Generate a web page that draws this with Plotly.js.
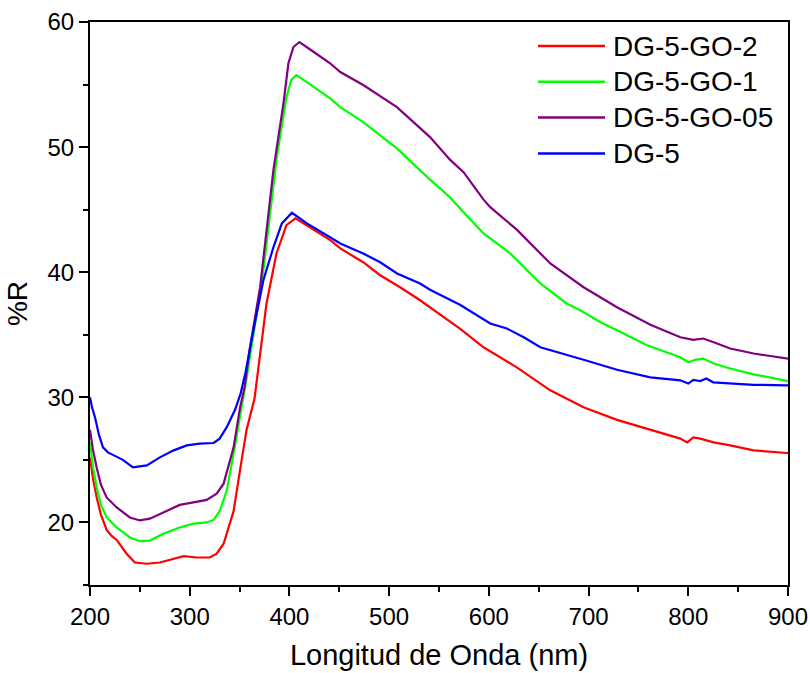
<!DOCTYPE html>
<html>
<head>
<meta charset="utf-8">
<script src="https://cdn.plot.ly/plotly-3.0.1.min.js"></script>
<style>html,body{margin:0;padding:0;background:#fff;}#chart{width:810px;height:673px;}</style>
</head>
<body>
<div id="chart"></div>
<script>
// Series names (legend order)
const names = ["DG-5-GO-2", "DG-5-GO-1", "DG-5-GO-05", "DG-5"];
const colors = ["#ff0000", "#00ff00", "#800080", "#0000ff"];

// DG-5-GO-2 (red)
const wlRed = [200,203,206.7,211,216.7,222,226.8,236.7,245,257,270,284,294,307,320,327,334,339,344,350.5,357,365,377,387,397,406,424,441,451,474,491,511,531,551,571,594.7,628,661.6,695,728.5,762,792,799,805,812,825.5,842,865.6,899,900];
const rRed  = [25.2,23.5,22.0,20.6,19.4,18.9,18.6,17.5,16.8,16.7,16.8,17.1,17.3,17.2,17.2,17.5,18.3,19.6,20.9,24.2,27.4,29.9,37.5,41.5,43.76,44.3,43.4,42.56,41.9,40.8,39.76,38.8,37.76,36.6,35.5,34.0,32.4,30.56,29.2,28.2,27.4,26.7,26.4,26.8,26.7,26.4,26.16,25.76,25.55,25.55];

// DG-5-GO-1 (green)
const wlGreen = [200,203,206.7,211,216.7,226.8,240,250,260,273.5,290,303.7,317,324,330,337,344,350.5,357,374,387,397,402,407,417.5,440.8,451,474,507.8,541,561,574.6,594.7,601.4,621.5,651.6,678,691.7,712,725,758.6,792,800,807,815,825.5,842,865.6,899,900];
const rGreen  = [26.4,24.4,22.8,21.4,20.4,19.6,18.8,18.5,18.55,19.1,19.6,19.9,20.0,20.2,20.9,22.5,25.5,28.4,31.5,40.2,49.0,54.0,55.4,55.75,55.2,53.9,53.2,52.0,49.9,47.4,46.0,44.8,43.1,42.7,41.5,39.1,37.5,36.96,36.0,35.5,34.16,33.2,32.8,33.0,33.1,32.7,32.3,31.84,31.3,31.3];

// DG-5-GO-05 (purple)
const wlPurple = [200,203,206.7,211,216.7,226.8,240,250,260,273.5,290,303.7,317,327,334,344,350.5,355,360,370.6,384,394,399,404,410,420.8,440.8,451,474,507.8,541,561,574.6,594.7,601.4,628,661.6,695,728.5,762,792,805,815,825.5,842,865.6,899,900];
const rPurple  = [27.4,25.8,24.4,23.0,22.0,21.2,20.4,20.16,20.3,20.8,21.4,21.6,21.8,22.3,23.1,26.0,29.2,30.8,33.8,38.8,48.2,53.5,56.7,58.0,58.4,57.8,56.7,56.0,54.96,53.2,50.8,49.0,48.0,45.8,45.2,43.4,40.7,38.8,37.2,35.8,34.8,34.6,34.7,34.4,33.9,33.5,33.1,33.1];

// DG-5 (blue)
const wlBlue = [200,202,205,209,213,218,223,233,243,257,270,284,297,310,324,330,337,345.5,351,356,364,374,384,392.4,402.5,417.5,440.8,451,474,491,508,531,541,561,571,601.4,618,635,651.6,695,728.5,762,792,800,805,812,818,825,842,865.6,899,900];
const rBlue  = [30.0,29.2,28.4,27.0,26.0,25.6,25.4,25.0,24.4,24.56,25.2,25.76,26.16,26.3,26.35,26.7,27.6,29.0,30.3,32.0,35.4,39.4,42.0,43.9,44.75,43.9,42.8,42.3,41.5,40.8,39.9,39.1,38.6,37.76,37.4,35.9,35.5,34.8,34.0,33.0,32.2,31.6,31.36,31.1,31.4,31.3,31.5,31.2,31.1,31.0,30.96,30.96];

// Axis ticks
const xTicks = [200,300,400,500,600,700,800,900];
const yTicks = [20,30,40,50,60];

const xs = [wlRed, wlGreen, wlPurple, wlBlue];
const ys = [rRed, rGreen, rPurple, rBlue];

const traces = names.map((n, i) => ({
  x: xs[i], y: ys[i], type: 'scatter', mode: 'lines', name: n,
  line: {color: colors[i], width: 2.2}, showlegend: false
}));

const W = 810, H = 673;
const M = {l: 90, r: 22, t: 22, b: 88};
const pw = W - M.l - M.r, ph = H - M.t - M.b;
const px = x => (x - M.l) / pw;
const py = y => 1 - (y - M.t) / ph;

const font = 'Arial, "Liberation Sans", sans-serif';
const shapes = [], annotations = [];
const legY0 = 46, legDy = 35.8;
names.forEach((n, i) => {
  const y = legY0 + i * legDy;
  shapes.push({type: 'line', xref: 'paper', yref: 'paper', x0: px(538), x1: px(605), y0: py(y), y1: py(y),
    line: {color: colors[i], width: 2.5}});
  annotations.push({xref: 'paper', yref: 'paper', x: px(611), y: py(y), xanchor: 'left', yanchor: 'middle',
    text: n, showarrow: false, font: {family: font, size: 28, color: '#000'}});
});

const axisCommon = {
  showgrid: false, zeroline: false, showline: true, linecolor: '#000', linewidth: 2, mirror: true,
  ticks: 'outside', ticklen: 9, tickwidth: 2, tickcolor: '#000',
  tickfont: {family: font, size: 24, color: '#000'}
};

const layout = {
  width: W, height: H, margin: M,
  paper_bgcolor: '#fff', plot_bgcolor: '#fff',
  xaxis: Object.assign({}, axisCommon, {
    range: [200, 900], tickvals: xTicks, ticktext: xTicks.map(String),
    minor: {ticks: 'outside', ticklen: 5, tickwidth: 2, tickcolor: '#000', dtick: 50, tick0: 200, showgrid: false},
    title: {text: 'Longitud de Onda (nm)', font: {family: font, size: 29, color: '#000'}, standoff: 16}
  }),
  yaxis: Object.assign({}, axisCommon, {
    range: [15, 60], tickvals: yTicks, ticktext: yTicks.map(String),
    minor: {ticks: 'outside', ticklen: 5, tickwidth: 2, tickcolor: '#000', dtick: 5, tick0: 0, showgrid: false},
    title: {text: '%R', font: {family: font, size: 28, color: '#000'}, standoff: 12}
  }),
  shapes: shapes, annotations: annotations, showlegend: false
};

Plotly.newPlot('chart', traces, layout, {staticPlot: true, displayModeBar: false});
</script>
</body>
</html>
